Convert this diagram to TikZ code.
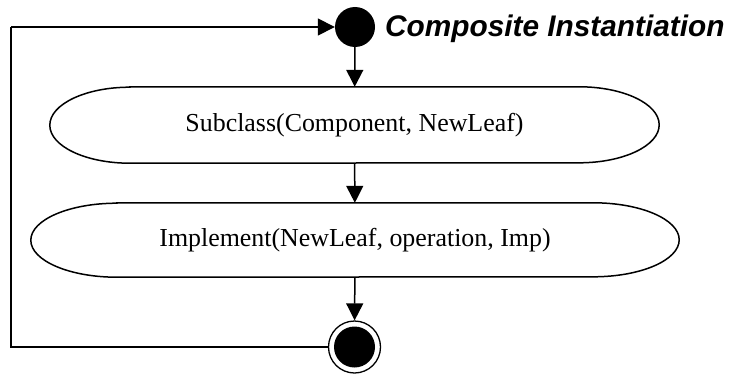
\documentclass[tikz,border=0pt]{standalone}
\usepackage{fontspec}
\setmainfont{Liberation Serif}
\newfontfamily\headfont{Liberation Sans}
\usetikzlibrary{arrows.meta}

\tikzset{
  line/.style={line width=1.5pt, draw=black},
  arr/.style={line, -{Triangle[length=17pt, width=17pt]}},
  actbox/.style={rectangle, inner sep=0pt, font=\fontsize{25.9}{30}\selectfont},
  startdot/.style={circle, fill=black, inner sep=0pt, minimum size=40pt},
  endring/.style={circle, draw=black, line width=1.3pt, fill=white, inner sep=0pt, minimum size=52pt},
  enddot/.style={circle, fill=black, inner sep=0pt, minimum size=41pt},
  heading/.style={anchor=base west, inner sep=0pt,
    font=\headfont\bfseries\itshape\fontsize{29.8}{34}\selectfont},
}

% outline of an activity state: flat top and bottom, half-ellipse ends
\newcommand{\actoutline}[3]{%
  \draw[line] ([xshift=#2]#1.north west) -- ([xshift=-#2]#1.north east)
    arc[start angle=90, end angle=-90, x radius=#2, y radius=#3]
    -- ([xshift=#2]#1.south west)
    arc[start angle=270, end angle=90, x radius=#2, y radius=#3] -- cycle;}

\begin{document}
\begin{tikzpicture}[x=1pt, y=1pt]
  \useasboundingbox (0,0) rectangle (730,373);

  % initial state and heading
  \node[startdot] (start) at (355,346) {};
  \node[heading] (title) at (385,336) {Composite Instantiation};

  % activity states
  \node[actbox, minimum width=609pt, minimum height=76pt] (sub) at (354.5,248)
    {Subclass(Component, NewLeaf)};
  \actoutline{sub}{80}{38}

  \node[actbox, minimum width=648pt, minimum height=74pt] (imp) at (355,133)
    {Implement(NewLeaf, operation, Imp)};
  \actoutline{imp}{86}{37}

  % final state
  \node[endring] (endo) at (354.5,26) {};
  \node[enddot] (endi) at (endo.center) {};

  % flow
  \draw[arr] (start) -- (sub);
  \draw[arr] (sub) -- (imp);
  \draw[arr] (imp) -- (endo);

  % loop back from the final state to the initial state
  \coordinate (lowleft) at (11,26);
  \coordinate (topleft) at (11,346);
  \draw[line] (endo) -- (lowleft) -- (topleft);
  \draw[arr] (topleft) -- (start);
\end{tikzpicture}
\end{document}
